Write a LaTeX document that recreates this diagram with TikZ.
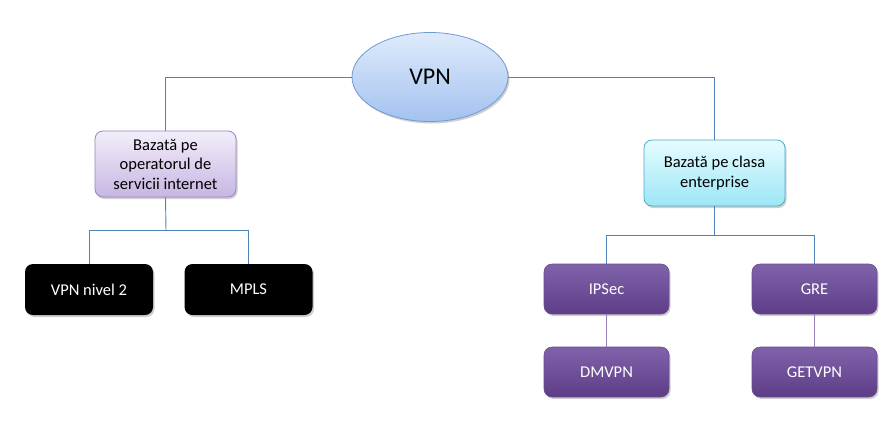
\documentclass[tikz,border=0pt]{standalone}
\usepackage{fontspec}
\setmainfont{Carlito}
\usetikzlibrary{shapes.geometric,shadows}
\definecolor{linec}{HTML}{4F81BD}
\definecolor{purpline}{HTML}{8064A2}
\definecolor{ptop}{HTML}{8062AB}
\definecolor{pbot}{HTML}{5D3E86}
\definecolor{pdraw}{HTML}{6A4C94}
\definecolor{etop}{HTML}{DFEBFC}
\definecolor{ebot}{HTML}{A3C2EF}
\definecolor{edraw}{HTML}{6F9AD4}
\definecolor{ltop}{HTML}{F3EEFA}
\definecolor{lbot}{HTML}{C7B6E2}
\definecolor{ldraw}{HTML}{9A83C0}
\definecolor{ctop}{HTML}{E6FCFF}
\definecolor{cbot}{HTML}{9CE6F6}
\definecolor{cdraw}{HTML}{4BACC6}
\begin{document}
\begin{tikzpicture}[x=1pt,y=-1pt,
  conn/.style={draw=linec,line width=0.9pt},
  pconn/.style={draw=purpline!80,line width=0.9pt},
  shad/.style={drop shadow={shadow xshift=1.5pt,shadow yshift=-2pt,opacity=0.3,fill=black!60}},
  rbox/.style={rounded corners=8pt,minimum width=126pt,minimum height=50pt,inner sep=2pt,align=center,font=\fontsize{16.5}{19.5}\selectfont,shad},
  blackbox/.style={rbox,fill=black,text=white,minimum width=128pt,minimum height=51pt},
  purplebox/.style={rbox,top color=ptop,bottom color=pbot,draw=pdraw,line width=0.6pt,text=white,minimum width=125pt},
]
\useasboundingbox (0,0) rectangle (896,445);
\fill[white] (0,0) rectangle (896,445);

\coordinate (jl) at (166,230);
\coordinate (jr) at (714.5,235);

\node[ellipse,minimum width=156pt,minimum height=89pt,top color=etop,bottom color=ebot,draw=edraw,line width=0.8pt,font=\fontsize{24}{28}\selectfont,shad] (vpn) at (430,77) {VPN};
\node[rbox,minimum width=141pt,minimum height=66pt,top color=ltop,bottom color=lbot,draw=ldraw,line width=0.8pt] (isp) at (165.5,164) {Bazată pe\\operatorul de\\servicii internet};
\node[rbox,minimum width=141pt,minimum height=66pt,top color=ctop,bottom color=cbot,draw=cdraw,line width=0.8pt] (ent) at (714.5,173) {Bazată pe clasa\\enterprise};

\node[blackbox] (l2) at (89,289.5) {VPN nivel 2};
\node[blackbox] (mpls) at (248.5,289.5) {MPLS};
\node[purplebox] (ipsec) at (606.5,289) {IPSec};
\node[purplebox] (gre) at (814.5,289) {GRE};
\node[purplebox] (dmvpn) at (606.5,372) {DMVPN};
\node[purplebox] (getvpn) at (814.5,372) {GETVPN};

\draw[conn] (vpn.west) -| (isp.north);
\draw[conn] (vpn.east) -| (ent.north);
\draw[conn] (isp.south) -- (jl);
\draw[conn] (jl) -| (l2.north);
\draw[conn] (jl) -| (mpls.north);
\draw[conn] (ent.south) -- (jr);
\draw[conn] (jr) -| (ipsec.north);
\draw[conn] (jr) -| (gre.north);
\draw[pconn] (ipsec) -- (dmvpn);
\draw[pconn] (gre) -- (getvpn);
\end{tikzpicture}
\end{document}
